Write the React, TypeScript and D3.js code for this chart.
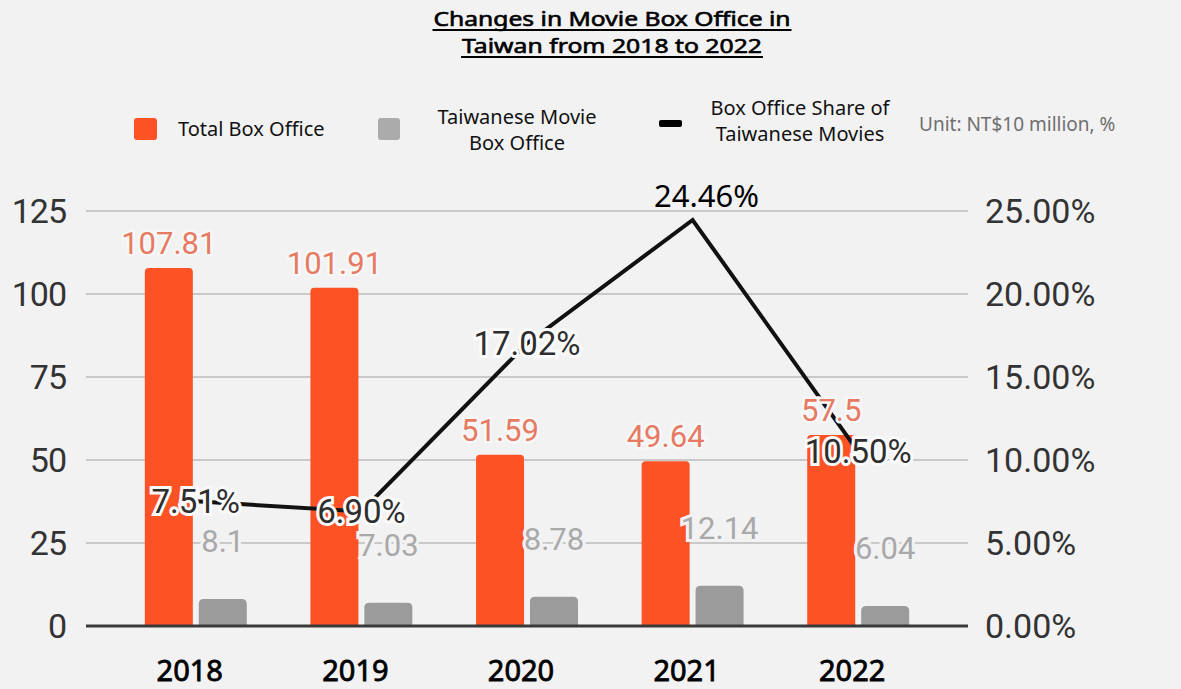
import { useEffect, useRef } from "react";
import * as d3 from "d3";

const years = ["2018", "2019", "2020", "2021", "2022"];
const totalBoxOffice = [107.81, 101.91, 51.59, 49.64, 57.5];
const taiwanBoxOffice = [8.1, 7.03, 8.78, 12.14, 6.04];
const taiwanShare = [7.51, 6.9, 17.02, 24.46, 10.5];
const leftTicks = [0, 25, 50, 75, 100, 125];
const rightTicks = [0, 5, 10, 15, 20, 25];

const width = 1181;
const height = 689;
const bg = "#f2f2f3";
const orange = "#fd5224";
const grey = "#9b9b9b";

function topRounded(x: number, y: number, w: number, h: number, r: number) {
  return `M${x},${y + h}V${y + r}Q${x},${y} ${x + r},${y}H${x + w - r}Q${x + w},${y} ${x + w},${y + r}V${y + h}Z`;
}

function App() {
  const ref = useRef<SVGSVGElement>(null);

  useEffect(() => {
    document.body.style.margin = "0";
    draw();
    // eslint-disable-next-line
  }, []);

  function draw() {
    const svg = d3.select(ref.current);
    svg.selectAll("*").remove();

    const yLeft = d3.scaleLinear().domain([0, 125]).range([626, 211]);
    const yRight = d3.scaleLinear().domain([0, 25]).range([626, 211]);
    const x = d3.scaleBand().domain(years).range([113, 941]);
    const xInner = d3
      .scaleBand()
      .domain(["total", "tw"])
      .range([0, x.bandwidth()])
      .paddingInner(0.11)
      .paddingOuter(0.59);
    const cx = (i: number) => (x(years[i]) as number) + x.bandwidth() / 2;

    svg.append("rect").attr("width", width).attr("height", height).attr("fill", bg);

    // gridlines
    svg
      .append("g")
      .selectAll("line")
      .data(leftTicks.slice(1))
      .enter()
      .append("line")
      .attr("x1", 86)
      .attr("x2", 968)
      .attr("y1", (d) => yLeft(d))
      .attr("y2", (d) => yLeft(d))
      .attr("stroke", "#c9c9c9")
      .attr("stroke-width", 2);

    // left ticks
    svg
      .append("g")
      .selectAll("text")
      .data(leftTicks)
      .enter()
      .append("text")
      .attr("x", 66)
      .attr("y", (d) => yLeft(d))
      .attr("dy", "0.355em")
      .attr("text-anchor", "end")
      .attr("font-family", "Roboto")
      .attr("font-size", 34)
      .attr("letter-spacing", -1)
      .attr("fill", "#333")
      .text((d) => d);

    // right ticks
    svg
      .append("g")
      .selectAll("text")
      .data(rightTicks)
      .enter()
      .append("text")
      .attr("x", 985)
      .attr("y", (d) => yRight(d))
      .attr("dy", "0.355em")
      .attr("font-family", "Roboto")
      .attr("font-size", 34)
      .attr("fill", "#333")
      .text((d) => d.toFixed(2) + "%");

    // bars
    const bars = svg.append("g");
    years.forEach((yr, i) => {
      const x0 = x(yr) as number;
      const xt = x0 + (xInner("total") as number);
      const xw = x0 + (xInner("tw") as number);
      const bw = xInner.bandwidth();
      bars
        .append("path")
        .attr("d", topRounded(xt, yLeft(totalBoxOffice[i]), bw, yLeft(0) - yLeft(totalBoxOffice[i]), 4))
        .attr("fill", orange);
      bars
        .append("path")
        .attr("d", topRounded(xw, yLeft(taiwanBoxOffice[i]), bw, yLeft(0) - yLeft(taiwanBoxOffice[i]), 5))
        .attr("fill", grey);
    });

    // zero line
    svg
      .append("line")
      .attr("x1", 86)
      .attr("x2", 968)
      .attr("y1", yLeft(0))
      .attr("y2", yLeft(0))
      .attr("stroke", "#3a3a3a")
      .attr("stroke-width", 3);

    // share line
    const line = d3
      .line<number>()
      .x((_, i) => cx(i))
      .y((d) => yRight(d));
    svg
      .append("path")
      .attr("d", line(taiwanShare))
      .attr("fill", "none")
      .attr("stroke", "#111")
      .attr("stroke-width", 4);

    // grey value labels
    svg
      .append("g")
      .selectAll("text")
      .data(taiwanBoxOffice)
      .enter()
      .append("text")
      .attr("x", (d, i) => (x(years[i]) as number) + (xInner("tw") as number) + xInner.bandwidth() / 2)
      .attr("y", (d) => yLeft(d) - 47)
      .attr("text-anchor", "middle")
      .attr("font-family", "Roboto")
      .attr("font-size", 31)
      .attr("fill", "#a9a9a9")
      .attr("stroke", bg)
      .attr("stroke-width", 6)
      .attr("paint-order", "stroke")
      .text((d) => d);

    // orange value labels
    svg
      .append("g")
      .selectAll("text")
      .data(totalBoxOffice)
      .enter()
      .append("text")
      .attr("x", (d, i) => (x(years[i]) as number) + (xInner("total") as number) + xInner.bandwidth() / 2)
      .attr("y", (d) => yLeft(d) - 14)
      .attr("text-anchor", "middle")
      .attr("font-family", "Roboto")
      .attr("font-size", 31)
      .attr("fill", "#e67a62")
      .attr("stroke", "#f7f7f7")
      .attr("stroke-width", 5)
      .attr("paint-order", "stroke")
      .text((d) => d);

    // share labels
    svg
      .append("g")
      .selectAll("text")
      .data(taiwanShare.map((v, i) => ({ v, i })).filter((d) => d.i !== 3))
      .enter()
      .append("text")
      .attr("x", (d) => cx(d.i))
      .attr("y", (d) => yRight(d.v))
      .attr("dy", "0.355em")
      .attr("text-anchor", "middle")
      .attr("font-family", "Roboto")
      .attr("font-size", 33)
      .attr("fill", "#2e2e2e")
      .attr("stroke", "#fafafa")
      .attr("stroke-width", 6)
      .attr("paint-order", "stroke")
      .text((d) => d.v.toFixed(2) + "%");

    // peak label
    svg
      .append("text")
      .attr("x", cx(3) + 14)
      .attr("y", yRight(taiwanShare[3]) - 13)
      .attr("text-anchor", "middle")
      .attr("font-family", "Noto Sans")
      .attr("font-size", 31)
      .attr("fill", "#000")
      .text(taiwanShare[3].toFixed(2) + "%");

    // x labels
    svg
      .append("g")
      .selectAll("text")
      .data(years)
      .enter()
      .append("text")
      .attr("x", (d, i) => cx(i) - 6)
      .attr("y", 681)
      .attr("text-anchor", "middle")
      .attr("font-family", "Noto Sans")
      .attr("font-size", 29)
      .attr("fill", "#000")
      .attr("stroke", "#000")
      .attr("stroke-width", 0.8)
      .text((d) => d);

    // title
    const titleLines = [
      { text: "Changes in Movie Box Office in", y: 26, len: 357 },
      { text: "Taiwan from 2018 to 2022", y: 53, len: 300 },
    ];
    const title = svg.append("g");
    titleLines.forEach((t) => {
      title
        .append("text")
        .attr("x", 612)
        .attr("y", t.y)
        .attr("text-anchor", "middle")
        .attr("font-family", "Noto Sans")
        .attr("font-size", 20)
        .attr("textLength", t.len)
        .attr("lengthAdjust", "spacingAndGlyphs")
        .attr("fill", "#000")
        .attr("stroke", "#000")
        .attr("stroke-width", 0.6)
        .text(t.text);
      title
        .append("line")
        .attr("x1", 612 - t.len / 2 - 1)
        .attr("x2", 612 + t.len / 2 + 1)
        .attr("y1", t.y + 4)
        .attr("y2", t.y + 4)
        .attr("stroke", "#000")
        .attr("stroke-width", 2);
    });

    // legend
    const legend = svg.append("g").attr("font-family", "Noto Sans").attr("font-size", 20).attr("fill", "#111");
    legend.append("rect").attr("x", 134).attr("y", 118).attr("width", 23).attr("height", 22).attr("rx", 3).attr("fill", orange);
    legend.append("text").attr("x", 178).attr("y", 136).text("Total Box Office");
    legend.append("rect").attr("x", 378).attr("y", 118).attr("width", 22).attr("height", 22).attr("rx", 3).attr("fill", "#ababab");
    legend.append("text").attr("x", 517).attr("y", 124).attr("text-anchor", "middle").text("Taiwanese Movie");
    legend.append("text").attr("x", 517).attr("y", 150).attr("text-anchor", "middle").text("Box Office");
    legend.append("rect").attr("x", 659).attr("y", 120).attr("width", 23).attr("height", 7).attr("rx", 2).attr("fill", "#000");
    legend.append("text").attr("x", 800).attr("y", 115).attr("text-anchor", "middle").text("Box Office Share of");
    legend.append("text").attr("x", 800).attr("y", 141).attr("text-anchor", "middle").text("Taiwanese Movies");
    legend.append("text").attr("x", 919).attr("y", 131).attr("fill", "#6f6f6f").attr("font-size", 19).text("Unit: NT$10 million, %");
  }

  return <svg ref={ref} width={width} height={height} style={{ display: "block" }}></svg>;
}

export default App;
